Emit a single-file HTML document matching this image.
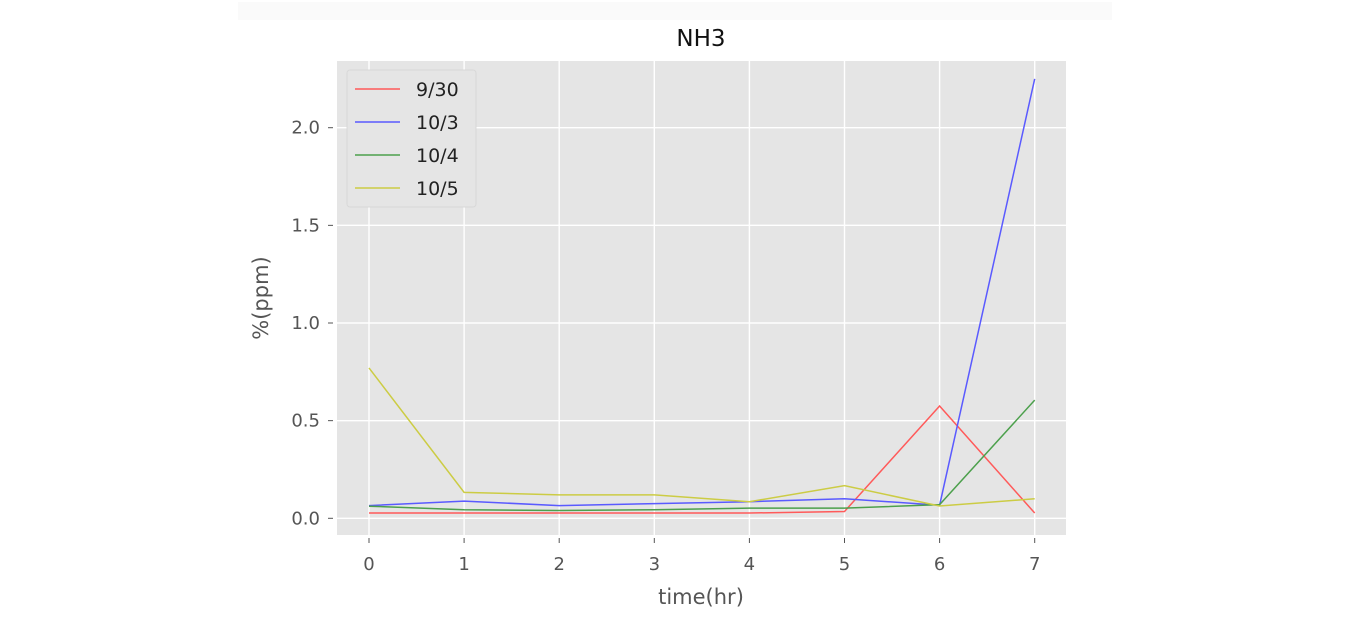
<!DOCTYPE html>
<html><head><meta charset="utf-8"><style>
body{margin:0;background:#fff;}
svg{display:block;font-family:"DejaVu Sans","Liberation Sans",sans-serif;}
</style></head><body>
<svg id="chart" width="1350" height="629" viewBox="0 0 1350 629">
<rect x="238" y="2" width="874" height="18" fill="#fafafa"/>
<rect x="337" y="61" width="729" height="474" fill="#e5e5e5"/>
<g id="grid"></g>
<g id="ticks"></g>
<g id="series"></g>
<text x="701" y="46" font-size="23" text-anchor="middle" fill="#111">NH3</text>
<text x="701" y="604" font-size="21" text-anchor="middle" fill="#555">time(hr)</text>
<text x="0" y="0" font-size="21" text-anchor="middle" fill="#555" transform="translate(268,298) rotate(-90)">%(ppm)</text>
<g>
<rect x="347" y="70" width="129" height="137" rx="3" fill="#e5e5e5" stroke="#d8d8d8"/>
<g id="legend"></g>
</g>
</svg>
<script>
const xCategories=[0,1,2,3,4,5,6,7];
const seriesNames=["9/30","10/3","10/4","10/5"];
const seriesColors=["#ff5a5a","#5a5aff","#4ca04c","#cccc44"];
const s930=[0.027,0.027,0.027,0.027,0.027,0.035,0.575,0.027];
const s103=[0.065,0.088,0.065,0.075,0.085,0.1,0.067,2.25];
const s104=[0.062,0.044,0.04,0.044,0.052,0.052,0.07,0.605];
const s105=[0.77,0.133,0.12,0.12,0.085,0.167,0.063,0.1];
const yTicks=[0,0.5,1,1.5,2];
const yTickLabels=["0.0","0.5","1.0","1.5","2.0"];
const xTickLabels=["0","1","2","3","4","5","6","7"];
const allSeries=[s930,s103,s104,s105];
const NS="http://www.w3.org/2000/svg";
function xs(v){return 369+v*95.1;}
function ys(v){return 518.3-v*195.3;}
function mk(t,a,p){const e=document.createElementNS(NS,t);for(const k in a)e.setAttribute(k,a[k]);p.appendChild(e);return e;}
const grid=document.getElementById('grid'),ticks=document.getElementById('ticks');
xCategories.forEach((c,i)=>{
  const l=mk('line',{x1:xs(c),x2:xs(c),y1:61,y2:535,stroke:'#fff','stroke-width':1.4},grid);
  
  
  const tk=mk('line',{x1:xs(c),x2:xs(c),y1:538,y2:543,stroke:'#555','stroke-width':1},ticks);
  
  
  const t=mk('text',{x:xs(c),y:570,'font-size':18,'text-anchor':'middle',fill:'#555'},ticks);
  t.textContent=xTickLabels[i];
  
  
});
yTicks.forEach((v,i)=>{
  const l=mk('line',{x1:337,x2:1066,y1:ys(v),y2:ys(v),stroke:'#fff','stroke-width':1.4},grid);
  
  
  const tk=mk('line',{x1:328,x2:333,y1:ys(v),y2:ys(v),stroke:'#555','stroke-width':1},ticks);
  
  
  const t=mk('text',{x:320,y:ys(v)+6,'font-size':18,'text-anchor':'end',fill:'#555'},ticks);
  t.textContent=yTickLabels[i];
  
  
});
const sg=document.getElementById('series'),lg=document.getElementById('legend');
allSeries.forEach((s,k)=>{
  const pts=s.map((v,i)=>xs(xCategories[i])+','+ys(v)).join(' ');
  const p=mk('polyline',{points:pts,fill:'none',stroke:seriesColors[k],'stroke-width':1.5},sg);
  
  
  const y=89+k*33;
  const ll=mk('line',{x1:355,x2:400,y1:y,y2:y,stroke:seriesColors[k],'stroke-width':1.5},lg);
  
  
  const lt=mk('text',{x:416,y:y+7,'font-size':19,fill:'#222'},lg);
  lt.textContent=seriesNames[k];
  
  
});
</script>
</body></html>
